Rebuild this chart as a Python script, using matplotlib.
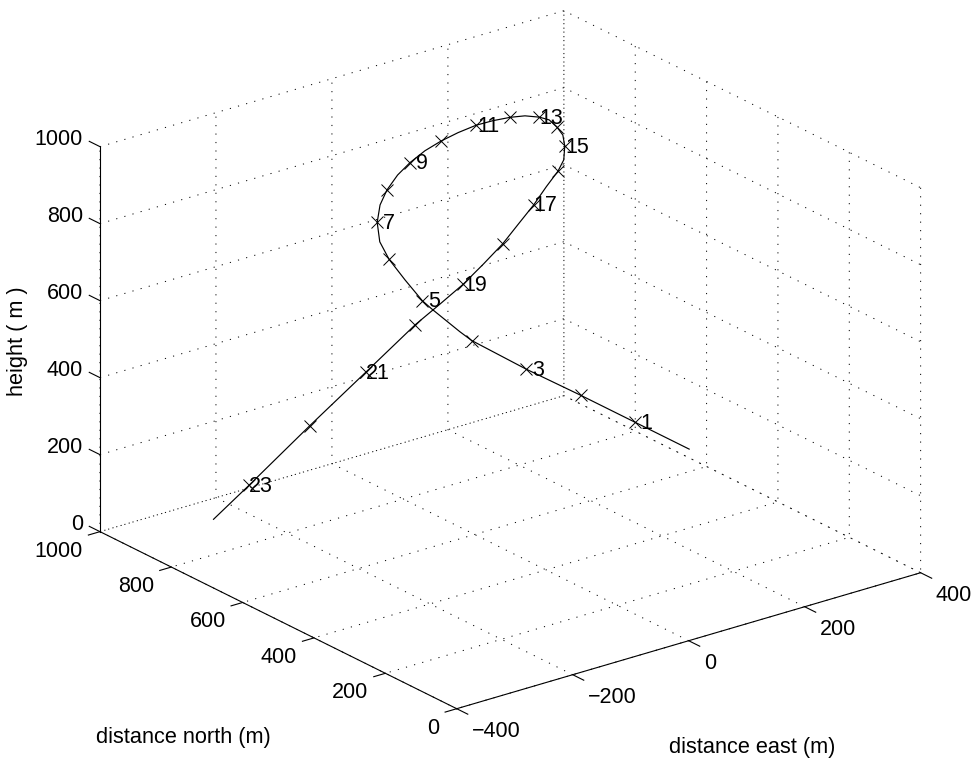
import matplotlib
matplotlib.use("Agg")
import matplotlib.pyplot as plt
from mpl_toolkits.mplot3d import proj3d

plt.rcParams['font.family'] = ['Liberation Sans', 'DejaVu Sans']
plt.rcParams['axes.unicode_minus'] = True

# Flight path
east = [7, 7, 7, 5, 0, -2, -8, -17, -24, -30, -27, -21, -5, 10, 29, 53, 78, 99,
        124, 147, 167, 189, 208, 225, 238, 243, 245, 244, 238, 228, 211, 191, 171,
        148, 121, 93, 65, 37, -46, -147, -267, -334]
north = [10, 163, 314, 464, 608, 638, 707, 719, 756, 791, 822, 839, 857, 862, 863,
         867, 866, 856, 848, 835, 820, 807, 797, 784, 778, 764, 751, 744, 737, 737,
         742, 745, 755, 762, 772, 783, 804, 826, 831, 823, 798, 789]
height = [490, 490, 490, 490, 500, 510, 540, 560, 600, 640, 670, 710, 740, 770, 800,
          820, 840, 860, 875, 890, 900, 905, 905, 900, 890, 875, 860, 835, 805, 780,
          745, 705, 660, 615, 570, 525, 475, 425, 335, 245, 155, 100]
# Positions in the path lists of crosses 1 to 23
cross_index = [1, 2, 3, 4, 7, 9, 11, 13, 15, 17, 19, 21, 23, 25, 27, 29, 31, 33, 35,
               37, 38, 39, 40]
cross_labels = ['1', '3', '5', '7', '9', '11', '13', '15', '17', '19', '21', '23']
label_index = [1, 3, 7, 11, 15, 19, 23, 27, 31, 35, 38, 40]

east_ticks = [-400, -200, 0, 200, 400]
north_ticks = [0, 200, 400, 600, 800, 1000]
height_ticks = [0, 200, 400, 600, 800, 1000]

W, H = 979, 767
side = 899.5
fig = plt.figure(figsize=(W / 100, H / 100), dpi=100)
ax = fig.add_axes([48.4 / W, -54.6 / H, side / W, side / H], projection='3d')
ax.set_proj_type('ortho')
ax.view_init(elev=22.42, azim=-127.54)
ax.set_box_aspect((585.1, 585.5, 416.5))
ax.set_xlim(-400, 400, view_margin=0)
ax.set_ylim(0, 1000, view_margin=0)
ax.set_zlim(0, 1000, view_margin=0)
ax.set_xticks(east_ticks)
ax.set_yticks(north_ticks)
ax.set_zticks(height_ticks)
ax.set_xticklabels([])
ax.set_yticklabels([])
ax.set_zticklabels([])

for axis in (ax.xaxis, ax.yaxis, ax.zaxis):
    axis.set_pane_color((1, 1, 1, 0))
    axis.pane.set_edgecolor('none')
    axis.line.set_color('none')
    axis._axinfo['tick'].update(inward_factor=0, outward_factor=0)
    axis._axinfo['grid'].update(color='k', linewidth=0.7, linestyle=(0, (1.2, 7.5)))

# Axis lines and tick marks by hand, mplot3d puts its own in the wrong place
axis_kw = dict(color='k', lw=0.8)
ax.plot([-400, 400], [0, 0], [0, 0], **axis_kw)
ax.plot([-400, -400], [0, 1000], [0, 0], **axis_kw)
ax.plot([-400, -400], [1000, 1000], [0, 1000], **axis_kw)
for t in east_ticks:
    ax.plot([t, t], [0, -31], [0, 0], **axis_kw)
for t in north_ticks:
    ax.plot([-400, -420], [t, t], [0, 0], **axis_kw)
for t in height_ticks:
    ax.plot([-400, -400], [1000, 1030], [t, t], **axis_kw)

# Path and crosses
ax.plot(east, north, height, color='k', lw=0.85)
ax.plot([east[i] for i in cross_index], [north[i] for i in cross_index],
        [height[i] for i in cross_index], ls='none', marker='x', ms=9, mew=0.7, color='k')


def put(text, x, y, z, dx, dy, ha):
    px, py, _ = proj3d.proj_transform(x, y, z, ax.get_proj())
    ax.annotate(text, (px, py), xytext=(dx, dy), textcoords='offset pixels',
                ha=ha, va='center', fontsize=15.5, color='k')


for t in east_ticks:
    put(str(t).replace('-', '\u2212'), t, 0, 0, 15, -22.5, 'left')
for t in north_ticks:
    put(str(t), -400, t, 0, -17, -19.5, 'right')
for t in height_ticks:
    put(str(t), -400, 1000, t, -17, 7, 'right')
for name, i in zip(cross_labels, label_index):
    put(name, east[i], north[i], height[i], 12, -1, 'center')

fig.text(183 / W, 1 - 737 / H, 'distance north (m)', fontsize=15.7, ha='center', va='center')
fig.text(752 / W, 1 - 748 / H, 'distance east (m)', fontsize=15.7, ha='center', va='center')
fig.text(18 / W, 1 - 341 / H, 'height ( m )', fontsize=15.7, rotation=90, ha='center', va='center')

fig.savefig('out.png', dpi=100)
